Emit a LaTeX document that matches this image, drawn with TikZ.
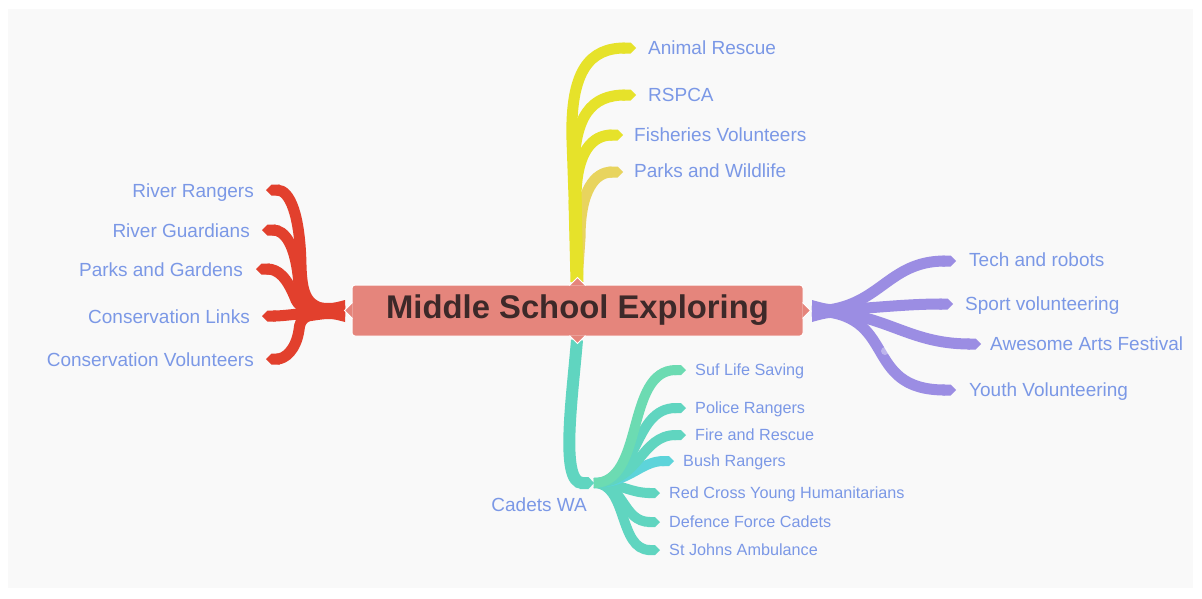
\documentclass[tikz,border=0pt]{standalone}
\usepackage{fontspec}
\setmainfont{Liberation Sans}
\usetikzlibrary{arrows.meta}
\definecolor{bgc}{HTML}{F9F9F9}
\definecolor{lbl}{HTML}{7B98E6}
\definecolor{redb}{HTML}{E2402D}
\definecolor{yelb}{HTML}{E6E22A}
\definecolor{yelp}{HTML}{E8D45E}
\definecolor{purb}{HTML}{9B8DE3}
\definecolor{tealb}{HTML}{60D5C0}
\definecolor{tealg}{HTML}{6CDBB2}
\definecolor{tealc}{HTML}{5DD4DA}
\definecolor{boxc}{HTML}{E5857C}
\definecolor{ttl}{HTML}{3D2929}
\tikzset{
  br/.style={line width=11pt, -{Triangle Cap[length=5.5pt]}, line cap=butt},
  sbr/.style={line width=10pt, -{Triangle Cap[length=5pt]}, line cap=butt},
  trunk/.style={line width=15pt, line cap=butt},
  lab/.style={inner sep=0pt, text=lbl, font=\fontsize{19}{22}\selectfont},
  slab/.style={inner sep=0pt, text=lbl, font=\fontsize{16.2}{19}\selectfont},
  ctr/.style={fill=boxc, draw=white, line width=1pt, rounded corners=3pt,
    minimum width=451pt, minimum height=51pt, inner sep=0pt,
    text=ttl, font=\bfseries\fontsize{32.8}{36}\selectfont},
  notch/.style={fill=boxc, draw=white, line width=1pt, line join=miter}
}
\begin{document}
\begin{tikzpicture}[x=1pt,y=-1pt]
\useasboundingbox (0,0) rectangle (1202,598);
\fill[white] (0,0) rectangle (1202,598);
\fill[bgc] (8,9) rectangle (1193,588);

% root coordinates
\coordinate (rootL) at (345,311);
\coordinate (rootR) at (812,311);
\coordinate (rootT) at (577,282);
\coordinate (rootB) at (577,340);

% ---------- left (red) ----------
\coordinate (tRR) at (266,190);
\coordinate (tRG) at (262,230);
\coordinate (tPG) at (256,269);
\coordinate (tCL) at (262,316);
\coordinate (tCV) at (266,359);
\fill[redb] (345,300) .. controls (330,304) .. (305,300) -- (305,322) .. controls (330,318) .. (345,322) -- cycle;
\draw[br,draw=redb] (rootL) .. controls (308,311) and (302,300) .. (301,265) .. controls (300,215) and (290,190) .. (tRR);
\draw[br,draw=redb] (rootL) .. controls (308,311) and (301,305) .. (299,285) .. controls (296,245) and (285,230) .. (tRG);
\draw[br,draw=redb] (rootL) .. controls (308,311) and (300,308) .. (296,300) .. controls (287,277) and (278,269) .. (tPG);
\draw[br,draw=redb] (rootL) .. controls (310,311) and (290,316) .. (tCL);
\draw[br,draw=redb] (rootL) .. controls (305,311) and (300,318) .. (299,330) .. controls (296,350) and (285,359) .. (tCV);
\node[lab, anchor=base east] (lRR) at (254,197.5) {River Rangers};
\node[lab, anchor=base east] (lRG) at (250,237) {River Guardians};
\node[lab, anchor=base east] (lPG) at (243,276) {Parks and Gardens};
\node[lab, anchor=base east] (lCL) at (250,323) {Conservation Links};
\node[lab, anchor=base east] (lCV) at (254,366) {Conservation Volunteers};

% ---------- top (yellow) ----------
\coordinate (tAR) at (636,48);
\coordinate (tRS) at (636,95);
\coordinate (tFV) at (623,135);
\coordinate (tPW) at (623,172);
\draw[br,draw=yelp] (rootT) -- (580,238) .. controls (580,190) and (595,172) .. (tPW);
\draw[trunk,draw=yelb,line width=13pt] (rootT) -- (575,200);
\draw[br,draw=yelb] (rootT) -- (572,140) .. controls (570,70) and (590,48) .. (tAR);
\draw[br,draw=yelb] (rootT) -- (574,172) .. controls (574,115) and (592,95) .. (tRS);
\draw[br,draw=yelb] (rootT) -- (576,195) .. controls (577,152) and (592,135) .. (tFV);
\node[lab, anchor=base west] (lAR) at (648,54.5) {Animal Rescue};
\node[lab, anchor=base west] (lRS) at (648,101.5) {RSPCA};
\node[lab, anchor=base west] (lFV) at (634,141.5) {Fisheries Volunteers};
\node[lab, anchor=base west] (lPW) at (634,177.5) {Parks and Wildlife};

% ---------- right (purple) ----------
\coordinate (tTR) at (956,261);
\coordinate (tSV) at (953,304);
\coordinate (tAA) at (981,344);
\coordinate (tYV) at (956,390);
\fill[purb] (812,300) .. controls (830,305) .. (855,303) -- (855,319) .. controls (830,317) .. (812,322) -- cycle;
\draw[br,draw=purb] (rootR) .. controls (880,311) and (885,261) .. (tTR);
\draw[br,draw=purb] (rootR) .. controls (870,309) and (900,304) .. (tSV);
\draw[br,draw=purb] (rootR) .. controls (885,311) and (905,344) .. (tAA);
\draw[br,draw=purb] (rootR) .. controls (900,311) and (860,390) .. (tYV);
\fill[white, opacity=0.35] (885,351) circle (4pt);
\node[lab, anchor=base west] (lTR) at (969,266.5) {Tech and robots};
\node[lab, anchor=base west] (lSV) at (965,310.5) {Sport volunteering};
\node[lab, anchor=base west] (lAA) at (990,350.5) {Awesome Arts Festival};
\node[lab, anchor=base west] (lYV) at (969,396) {Youth Volunteering};

% ---------- bottom (teal) ----------
\coordinate (jC) at (594,483);
\coordinate (tSL) at (686,370);
\coordinate (tPR) at (686,408);
\coordinate (tFR) at (686,435);
\coordinate (tBR) at (674,461);
\coordinate (tRC) at (660,493);
\coordinate (tDF) at (660,522);
\coordinate (tSJ) at (660,550);
\draw[br,draw=tealb,line width=12pt] (rootB) .. controls (572,400) and (560,483) .. (jC);
\draw[sbr,draw=tealb] (jC) .. controls (628,483) and (618,550) .. (tSJ);
\draw[sbr,draw=tealb] (jC) .. controls (625,483) and (622,522) .. (tDF);
\draw[sbr,draw=tealb] (jC) .. controls (620,483) and (630,493) .. (tRC);
\draw[sbr,draw=tealc] (jC) .. controls (630,483) and (640,461) .. (tBR);
\draw[sbr,draw=tealb] (jC) .. controls (640,483) and (640,435) .. (tFR);
\draw[sbr,draw=tealb] (jC) .. controls (640,483) and (632,408) .. (tPR);
\draw[sbr,draw=tealg] (jC) .. controls (645,483) and (625,370) .. (tSL);
\node[lab, anchor=base east] (lCW) at (587,511.5) {Cadets WA};
\node[slab, anchor=base west] (lSL) at (695,375.8) {Suf Life Saving};
\node[slab, anchor=base west] (lPR) at (695,413.8) {Police Rangers};
\node[slab, anchor=base west] (lFR) at (695,440.8) {Fire and Rescue};
\node[slab, anchor=base west] (lBR) at (683,466.8) {Bush Rangers};
\node[slab, anchor=base west] (lRC) at (669,498.8) {Red Cross Young Humanitarians};
\node[slab, anchor=base west] (lDF) at (669,527.8) {Defence Force Cadets};
\node[slab, anchor=base west] (lSJ) at (669,555.8) {St Johns Ambulance};

% ---------- centre ----------
\node[ctr] (c) at (577.5,310.5) {Middle School Exploring};
\draw[notch] ([xshift=1pt,yshift=8pt]c.west) -- ++(-8,8) -- ++(8,8);
\draw[notch] ([xshift=-1pt,yshift=8pt]c.east) -- ++(8,8) -- ++(-8,8);
\draw[notch] ([xshift=-8pt,yshift=-1pt]c.north) -- ++(8,-8) -- ++(8,8);
\draw[notch] ([xshift=-8pt,yshift=1pt]c.south) -- ++(8,8) -- ++(8,-8);
\end{tikzpicture}
\end{document}
